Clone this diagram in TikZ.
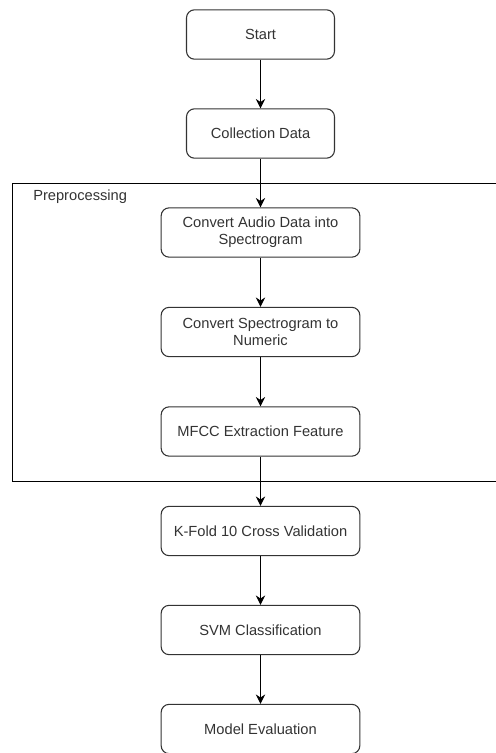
\documentclass[tikz,border=0pt]{standalone}
\usepackage{fontspec}
\setmainfont{Liberation Sans}
\usepackage{xcolor}
\usepackage{tikz}
\usetikzlibrary{arrows.meta,positioning}
\definecolor{ink}{HTML}{333333}
\tikzset{
  stepbox/.style={draw=ink,line width=0.8pt,rounded corners=6pt,align=center,text=ink,
    minimum width=149pt,minimum height=37pt,inner sep=2pt},
  smallbox/.style={stepbox,minimum width=111pt},
  flow/.style={->,line width=0.75pt,black}
}

\begin{document}
\begin{tikzpicture}[x=0.75pt,y=-0.75pt,font=\fontsize{11}{13}\selectfont,>={Stealth[length=7pt,width=7pt]}]
\useasboundingbox (0,0) rectangle (496,753);
\clip (0,0) rectangle (496,753);
% preprocessing frame (runs off the right edge)
\draw[black,line width=0.75pt] (12.5,183) rectangle (520,481);
\node[anchor=west,text=ink,inner sep=0pt] (preplabel) at (33,196.5) {Preprocessing};
% steps
\node[smallbox] (start)   at (260.5,34.5)  {Start};
\node[smallbox] (collect) at (260.5,133.5) {Collection Data};
\node[stepbox]  (audio)   at (260.5,232.5) {Convert Audio Data into\\Spectrogram};
\node[stepbox]  (spectro) at (260.5,332)   {Convert Spectrogram to\\Numeric};
\node[stepbox]  (mfcc)    at (260.5,431.5) {MFCC Extraction Feature};
\node[stepbox]  (kfold)   at (260.5,531)   {K-Fold 10 Cross Validation};
\node[stepbox]  (svm)     at (260.5,630)   {SVM Classification};
\node[stepbox]  (evalm)   at (260.5,729)   {Model Evaluation};
% arrows
\foreach \a/\b in {start/collect,collect/audio,audio/spectro,spectro/mfcc,mfcc/kfold,kfold/svm,svm/evalm}{
  \draw[flow] (\a) -- (\b);
}
\end{tikzpicture}
\end{document}
